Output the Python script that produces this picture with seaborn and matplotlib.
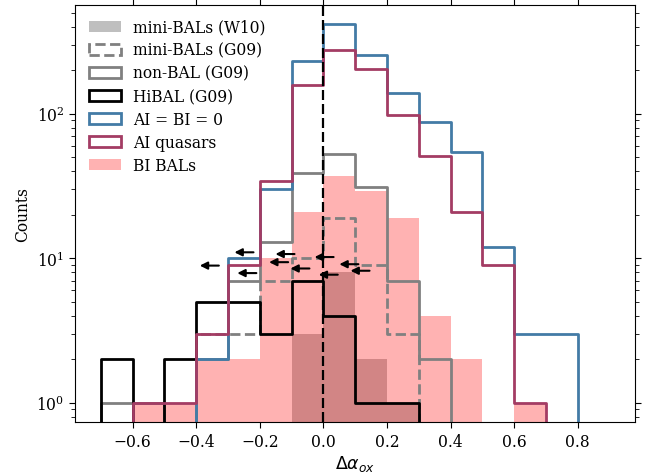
import numpy as np
import pandas as pd
import matplotlib
matplotlib.use("Agg")
import matplotlib.pyplot as plt
from matplotlib.patches import Patch
import seaborn as sns

# ---- data: lower edges of the 0.1-wide bins in Delta alpha_ox ----
bin_lo = [-0.8, -0.7, -0.6, -0.5, -0.4, -0.3, -0.2, -0.1, 0.0,
          0.1, 0.2, 0.3, 0.4, 0.5, 0.6, 0.7, 0.8]
bin_width = 0.1

mini_w10 = [0, 0, 0, 0, 0, 0, 0, 3, 8, 2, 1, 0, 0, 0, 0, 0, 0]
bi_bals = [0, 0, 1, 1, 2, 2, 10, 21, 37, 29, 19, 4, 2, 0, 1, 0, 0]
nonbal_g09 = [0, 1, 1, 0, 2, 7, 13, 39, 53, 31, 7, 2, 0, 0, 0, 0, 0]
mini_g09 = [0, 0, 0, 0, 3, 3, 7, 10, 19, 9, 3, 0, 0, 0, 0, 0, 0]
hibal_g09 = [0, 2, 0, 2, 5, 5, 3, 7, 4, 1, 1, 0, 0, 0, 0, 0, 0]
ai_bi_zero = [0, 0, 0, 0, 2, 10, 30, 230, 420, 253, 140, 87, 54, 12, 3, 3, 0]
ai_quasars = [0, 0, 1, 1, 3, 9, 34, 159, 274, 203, 98, 51, 21, 9, 1, 0, 0]

# upper limits (arrows pointing to lower Delta alpha_ox)
lim_x = [-0.220, -0.329, -0.211, -0.091, -0.111, 0.032, -0.044, 0.110, 0.145, 0.045]
lim_y = [11.0, 8.9, 7.9, 10.7, 9.4, 10.2, 8.5, 9.1, 8.2, 7.7]
arrow_len = 0.06

labels = ["mini-BALs (W10)", "mini-BALs (G09)", "non-BAL (G09)", "HiBAL (G09)",
          "AI = BI = 0", "AI quasars", "BI BALs"]

plt.rcParams["font.family"] = ["DejaVu Serif"]
plt.rcParams["font.size"] = 11.2
plt.rcParams["mathtext.fontset"] = "dejavusans"

BLUE = "#437ba6"
MAROON = "#a33c64"

lo = np.array(bin_lo)
edges = [float(v) for v in np.round(np.append(lo, lo[-1] + bin_width), 3)]
centers = lo + bin_width / 2


def frame(counts):
    return pd.DataFrame({"x": centers, "w": np.asarray(counts, dtype=float)})


fig = plt.figure(figsize=(6.54, 4.77), dpi=100)
ax = fig.add_axes([0.1154, 0.1138, 0.9709 - 0.1154, 0.988 - 0.1138])

# filled histograms
sns.histplot(data=frame(mini_w10), x="x", weights="w", bins=edges, element="bars",
             fill=True, color="gray", alpha=0.5, edgecolor="none", linewidth=0, ax=ax)
sns.histplot(data=frame(bi_bals), x="x", weights="w", bins=edges, element="bars",
             fill=True, color="red", alpha=0.3, edgecolor="none", linewidth=0, ax=ax)

# step histograms
step_kw = dict(x="x", weights="w", bins=edges, element="step", fill=False,
               linewidth=2, ax=ax)
sns.histplot(data=frame(nonbal_g09), color="gray", **step_kw)
sns.histplot(data=frame(mini_g09), color="gray", linestyle="--", **step_kw)
sns.histplot(data=frame(hibal_g09), color="black", **step_kw)
sns.histplot(data=frame(ai_bi_zero), color=BLUE, **step_kw)
sns.histplot(data=frame(ai_quasars), color=MAROON, **step_kw)

ax.axvline(0.0, color="black", linestyle=(0, (4.5, 1.8)), linewidth=1.6)

for x, y in zip(lim_x, lim_y):
    ax.annotate("", xy=(x - arrow_len, y), xytext=(x, y),
                arrowprops=dict(arrowstyle="-|>", color="black", lw=1.5,
                                mutation_scale=11, shrinkA=0, shrinkB=0))

ax.set_yscale("log")
ax.set_xlim(-0.78, 0.98)
ax.set_ylim(0.74, 568)
ax.set_xticks([-0.6, -0.4, -0.2, 0.0, 0.2, 0.4, 0.6, 0.8])
ax.set_xlabel(r"$\Delta\alpha_{ox}$", fontsize=12.5, labelpad=2)
ax.set_ylabel("Counts")
ax.tick_params(which="both", direction="out", top=True, right=True)
ax.tick_params(which="major", length=4.5)
ax.tick_params(which="minor", length=2.8)

handles = [
    Patch(facecolor="gray", alpha=0.5, edgecolor="none"),
    Patch(facecolor="none", edgecolor="gray", linestyle="--", linewidth=2),
    Patch(facecolor="none", edgecolor="gray", linewidth=2),
    Patch(facecolor="none", edgecolor="black", linewidth=2),
    Patch(facecolor="none", edgecolor=BLUE, linewidth=2),
    Patch(facecolor="none", edgecolor=MAROON, linewidth=2),
    Patch(facecolor="red", alpha=0.3, edgecolor="none"),
]
ax.legend(handles, labels, loc="upper left", frameon=False, labelspacing=0.39)

fig.savefig("out.png", dpi=100)
